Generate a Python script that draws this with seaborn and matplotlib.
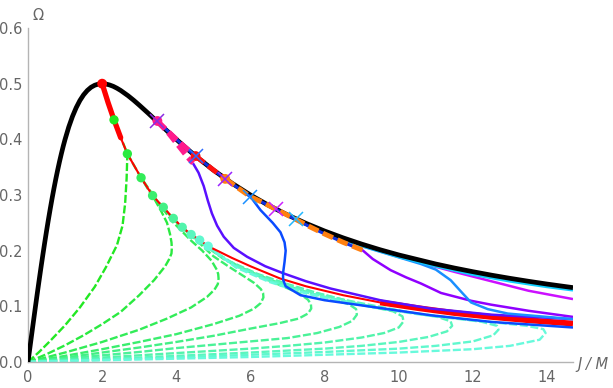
import numpy as np
import pandas as pd
import matplotlib
matplotlib.use("Agg")
import matplotlib.pyplot as plt
import seaborn as sns
from matplotlib.ticker import MultipleLocator

# ---------------- data ----------------
black_J = [0, 0.1, 0.15, 0.2, 0.25, 0.3, 0.35, 0.4, 0.45, 0.5, 0.55, 0.6, 0.65, 0.7, 0.75, 0.8,
           0.85, 0.9, 0.95, 1.0, 1.1, 1.2, 1.3, 1.4, 1.5, 1.6, 1.7, 1.8, 1.9, 2.0, 2.1, 2.2, 2.3,
           2.4, 2.5, 2.7, 2.85, 3.0, 3.25, 3.5, 3.75, 4.0, 4.25, 4.5, 5.0, 5.5, 6.0, 6.5, 7.0,
           7.5, 8.0, 8.5, 9.0, 9.5, 10.0, 11.0, 11.5, 12.0, 12.5, 13.0, 13.5, 14.0, 14.7]
black_W = [0, 0.0499, 0.0746, 0.0990, 0.1231, 0.1467, 0.1698, 0.1923, 0.2142, 0.2353, 0.2557,
           0.2752, 0.2940, 0.3118, 0.3288, 0.3448, 0.3600, 0.3742, 0.3876, 0.4, 0.4223, 0.4412,
           0.4569, 0.4698, 0.48, 0.4878, 0.4935, 0.4972, 0.4993, 0.5, 0.4994, 0.4977, 0.4952,
           0.4918, 0.4878, 0.4783, 0.4702, 0.4615, 0.4464, 0.4308, 0.4152, 0.4, 0.3853, 0.3711,
           0.3448, 0.3212, 0.3, 0.2811, 0.2642, 0.249, 0.2353, 0.223, 0.2118, 0.2016, 0.1923,
           0.176, 0.1688, 0.1622, 0.156, 0.1503, 0.145, 0.14, 0.1336]

red_J = [2.0, 2.16, 2.32, 2.5, 2.68, 3.05, 3.36, 3.65, 3.92, 4.16, 4.4, 4.63, 4.86, 5.5, 6.0, 6.8,
         7.5, 8.5, 9.5, 10.5, 11.5, 12.5, 13.5, 14.7]
red_W = [0.5, 0.466, 0.435, 0.403, 0.374, 0.331, 0.299, 0.278, 0.258, 0.242, 0.229, 0.219, 0.208,
         0.187, 0.172, 0.15, 0.136, 0.12, 0.107, 0.097, 0.088, 0.081, 0.075, 0.069]

dot_J = [2.32, 2.68, 3.05, 3.36, 3.65, 3.92, 4.16, 4.40, 4.63, 4.86]
dot_W = [0.435, 0.374, 0.331, 0.299, 0.278, 0.258, 0.242, 0.229, 0.219, 0.208]
green_colors = ["#22e822", "#2aea40", "#32ec58", "#3aee6e", "#42f084", "#4af298",
                "#52f4ac", "#5af6be", "#60f8ce", "#68fadc"]

g1_J = [0, 0.3, 0.6, 1.0, 1.4, 1.8, 2.1, 2.4, 2.55, 2.62, 2.66, 2.68, 2.5, 2.32]
g1_W = [0, 0.018, 0.038, 0.066, 0.098, 0.135, 0.17, 0.21, 0.245, 0.285, 0.33, 0.374, 0.404, 0.435]
g2_J = [0, 0.5, 1.0, 1.5, 2.0, 2.5, 3.0, 3.4, 3.7, 3.81, 3.87, 3.88, 3.87, 3.83, 3.75, 3.6, 3.45,
        3.3, 3.05, 2.68]
g2_W = [0, 0.014, 0.03, 0.048, 0.068, 0.09, 0.12, 0.147, 0.172, 0.185, 0.195, 0.205, 0.215,
        0.23, 0.25, 0.27, 0.288, 0.307, 0.331, 0.374]
g3_J = [0, 1, 2, 3, 3.75, 4.4, 4.83, 5.03, 5.12, 5.14, 5.13, 5.09, 4.95, 4.7, 4.4, 4.15, 3.9,
        3.65, 3.36, 3.05]
g3_W = [0, 0.017, 0.036, 0.058, 0.078, 0.098, 0.117, 0.13, 0.14, 0.15, 0.158, 0.166, 0.182, 0.2,
        0.218, 0.235, 0.252, 0.274, 0.297, 0.331]
g4_J = [0, 1, 2, 3, 4, 5, 5.7, 6.1, 6.28, 6.35, 6.34, 6.28, 6.1, 5.8, 5.4, 5.0, 4.65, 4.4, 4.16,
        3.92, 3.65, 3.36]
g4_W = [0, 0.011, 0.023, 0.036, 0.05, 0.068, 0.083, 0.096, 0.106, 0.116, 0.124, 0.131, 0.142,
        0.155, 0.172, 0.19, 0.212, 0.228, 0.241, 0.257, 0.277, 0.299]
g5_J = [0, 1, 2, 3, 4, 5, 6, 6.8, 7.3, 7.55, 7.64, 7.63, 7.55, 7.3, 6.8, 6.3, 5.8, 5.3, 4.86,
        4.63, 4.4, 4.16, 3.92, 3.65]
g5_W = [0, 0.008, 0.017, 0.026, 0.036, 0.047, 0.06, 0.07, 0.078, 0.087, 0.096, 0.104, 0.112,
        0.124, 0.138, 0.152, 0.167, 0.184, 0.205, 0.217, 0.228, 0.241, 0.257, 0.278]
g6_J = [0, 1, 2, 3, 4, 5, 6, 7, 7.8, 8.4, 8.75, 8.87, 8.85, 8.65, 8.1, 7.5, 6.8, 6.0, 5.3, 4.86,
        4.63, 4.4, 4.16, 3.92]
g6_W = [0, 0.006, 0.012, 0.018, 0.025, 0.031, 0.037, 0.043, 0.052, 0.063, 0.074, 0.085, 0.095,
        0.104, 0.114, 0.126, 0.141, 0.162, 0.185, 0.206, 0.218, 0.229, 0.242, 0.258]
g7_J = [0, 2, 4, 6, 7, 8, 9, 9.6, 10.0, 10.13, 10.1, 9.85, 9.2, 8.5, 7.8, 7.0, 6.2, 5.4, 4.86,
        4.63, 4.4, 4.16]
g7_W = [0, 0.008, 0.016, 0.024, 0.029, 0.035, 0.044, 0.052, 0.062, 0.073, 0.082, 0.091, 0.1,
        0.112, 0.124, 0.14, 0.158, 0.182, 0.206, 0.218, 0.229, 0.242]
g8_J = [0, 2, 4, 6, 8, 9, 10, 10.8, 11.3, 11.44, 11.4, 11.05, 10.3, 9.5, 8.5, 7.5, 6.5, 5.6, 4.86,
        4.63, 4.4]
g8_W = [0, 0.005, 0.011, 0.017, 0.024, 0.029, 0.036, 0.045, 0.055, 0.065, 0.073, 0.081, 0.089,
        0.099, 0.112, 0.128, 0.148, 0.174, 0.206, 0.218, 0.229]
g9_J = [0, 2, 4, 6, 8, 10, 11, 12, 12.55, 12.69, 12.65, 12.25, 11.5, 10.5, 9.5, 8.5, 7.5, 6.5,
        5.6, 4.86, 4.63]
g9_W = [0, 0.004, 0.008, 0.013, 0.018, 0.024, 0.029, 0.037, 0.048, 0.058, 0.065, 0.072, 0.079,
        0.087, 0.097, 0.11, 0.125, 0.146, 0.172, 0.205, 0.219]
g10_J = [0, 2, 4, 6, 8, 10, 12, 13, 13.8, 13.96, 13.9, 13.45, 12.6, 11.5, 10.5, 9.5, 8.5, 7.5,
         6.5, 5.6, 4.86]
g10_W = [0, 0.003, 0.006, 0.009, 0.013, 0.017, 0.023, 0.029, 0.04, 0.052, 0.059, 0.065, 0.071,
         0.078, 0.086, 0.096, 0.108, 0.123, 0.144, 0.17, 0.208]
green_J = [g1_J, g2_J, g3_J, g4_J, g5_J, g6_J, g7_J, g8_J, g9_J, g10_J]
green_W = [g1_W, g2_W, g3_W, g4_W, g5_W, g6_W, g7_W, g8_W, g9_W, g10_W]

# upper (overlapping) branch
up_J = [3.49, 3.8, 4.1, 4.52, 5.0, 5.32, 5.7, 6.0, 6.35, 6.7, 7.23, 7.6, 8.0, 8.5, 9.02]
up_W = [0.433, 0.413, 0.394, 0.370, 0.345, 0.329, 0.311, 0.297, 0.286, 0.274, 0.256, 0.243,
        0.230, 0.215, 0.201]
pink_J = [3.49, 3.8, 4.1, 4.3, 4.45]
pink_W = [0.433, 0.41, 0.385, 0.368, 0.357]

violet_J = [4.45, 4.6, 4.74, 4.85, 4.96, 5.1, 5.28, 5.55, 5.91, 6.4, 6.9, 7.5, 8.16, 9.5, 10.86,
            12.5, 14.7]
violet_W = [0.357, 0.34, 0.316, 0.29, 0.267, 0.245, 0.225, 0.205, 0.189, 0.172, 0.159, 0.145,
            0.132, 0.111, 0.096, 0.085, 0.077]
blue_J = [6.0, 6.27, 6.6, 6.81, 6.92, 6.95, 6.92, 6.88, 6.88, 6.95, 7.35, 8.0, 8.97, 10.86, 12.5,
          14.7]
blue_W = [0.297, 0.273, 0.25, 0.233, 0.215, 0.2, 0.18, 0.16, 0.148, 0.136, 0.12, 0.111, 0.102,
          0.084, 0.072, 0.062]
purple_J = [9.02, 9.3, 9.78, 10.2, 10.6, 11.14, 11.95, 12.49, 13.5, 14.7]
purple_W = [0.201, 0.185, 0.165, 0.152, 0.141, 0.124, 0.110, 0.103, 0.092, 0.081]
magenta_J = [6.7, 7.5, 8.5, 9.5, 10.5, 11.5, 12.5, 13.5, 14.7]
magenta_W = [0.274, 0.248, 0.222, 0.2, 0.18, 0.162, 0.145, 0.128, 0.113]
dodger_J = [7.23, 8.0, 9.0, 10.0, 10.6, 11.0, 11.4, 11.7, 11.95, 12.4, 12.94, 14.7]
dodger_W = [0.254, 0.232, 0.208, 0.188, 0.176, 0.166, 0.147, 0.125, 0.107, 0.095, 0.087, 0.077]
cyan_J = [7.23, 8.0, 9.0, 10.0, 11.0, 12.0, 13.0, 14.0, 14.7]
cyan_W = [0.255, 0.233, 0.209, 0.189, 0.172, 0.157, 0.145, 0.135, 0.129]

cross_J = [3.49, 4.52, 5.32, 6.0, 6.7, 7.23]
cross_W = [0.433, 0.370, 0.329, 0.297, 0.274, 0.256]
cross_colors = ["#8a2be2", "#2f6bff", "#9a22ff", "#1a8fff", "#cc22ff", "#22b8ff"]
circ_J = [3.49, 4.52, 5.32]
circ_W = [0.433, 0.370, 0.329]
circ_colors = ["#ff1a8c", "#ff1010", "#ff8010"]

xticks = [0, 2, 4, 6, 8, 10, 12, 14]
yticks = [0.0, 0.1, 0.2, 0.3, 0.4, 0.5, 0.6]

# ---------------- plotting ----------------
sns.set_theme(style="white")
plt.rcParams['font.family'] = ['DejaVu Sans']

fig = plt.figure(figsize=(6.13, 3.88), dpi=100)
ax = fig.add_axes([28 / 613, 26 / 388, 545 / 613, 334 / 388])


def line(J, W, color, lw, dashes=None, z=2, cap='butt'):
    df = pd.DataFrame({'J': J, 'W': W})
    sns.lineplot(data=df, x='J', y='W', sort=False, estimator=None, color=color,
                 lw=lw, ax=ax, zorder=z)
    ln = ax.lines[-1]
    if dashes is not None:
        ln.set_dashes(dashes)
    ln.set_solid_capstyle(cap)
    ln.set_dash_capstyle('butt')
    ln.set_solid_joinstyle('round')
    return ln


# green dashed family
for J, W, c in zip(green_J, green_W, green_colors):
    line(J, W, c, 1.7, dashes=(3.4, 1.1), z=2)

# red lower branch
line(red_J, red_W, "#ff0000", 1.5, z=3)
line(red_J[:4], red_W[:4], "#ff0000", 3.8, z=3, cap='round')
line(red_J[18:], red_W[18:], "#ff0000", 4.2, z=3)

# coloured solid branches
line(violet_J, violet_W, "#5a10ff", 1.8, z=3)
line(blue_J, blue_W, "#0a4bff", 1.8, z=3)
line(purple_J, purple_W, "#9000ff", 1.8, z=3)
line(magenta_J, magenta_W, "#cc10ff", 1.8, z=3)
line(dodger_J, dodger_W, "#1a8fff", 1.8, z=3)
line(cyan_J, cyan_W, "#10d0ff", 2.0, z=3)

# black curve
line(black_J, black_W, "#000000", 3.4, z=4)

# overlapping dashed upper branch
line(up_J, up_W, "#1030e0", 2.2, z=5)
line(pink_J, pink_W, "#ff1a8c", 3.6, dashes=(2.2, 1.0), z=6)
line(up_J[:4], up_W[:4], "#ff1a8c", 3.6, dashes=(2.2, 1.0), z=6)
line(up_J[3:6], up_W[3:6], "#ff1010", 3.6, dashes=(2.2, 1.0), z=6)
line(up_J[5:], up_W[5:], "#ff8010", 3.6, dashes=(2.2, 1.0), z=6)

# markers
sns.scatterplot(x=dot_J, y=dot_W, hue=list(range(len(dot_J))), palette=green_colors,
                s=45, edgecolor='none', legend=False, ax=ax, zorder=7)
sns.scatterplot(x=[2.0], y=[0.5], color="#ff0000", s=50, edgecolor='none', legend=False,
                ax=ax, zorder=7)
sns.scatterplot(x=circ_J, y=circ_W, hue=list(range(3)), palette=circ_colors, s=50,
                edgecolor='none', legend=False, ax=ax, zorder=7)
for j, w, c in zip(cross_J, cross_W, cross_colors):
    ax.plot([j], [w], marker='x', ms=10, mew=1.1, color=c, zorder=8, ls='none')

# axes styling
ax.set_xlim(0, 14.7)
ax.set_ylim(0, 0.6)
ax.set_xticks(xticks)
ax.set_yticks(yticks)
ax.set_xticklabels([str(t) for t in xticks])
ax.set_yticklabels([f"{t:.1f}" for t in yticks])
ax.xaxis.set_minor_locator(MultipleLocator(0.5))
ax.yaxis.set_minor_locator(MultipleLocator(0.02))
for s in ['top', 'right']:
    ax.spines[s].set_visible(False)
for s in ['left', 'bottom']:
    ax.spines[s].set_color('#b4b4b4')
    ax.spines[s].set_linewidth(1.0)
ax.tick_params(which='both', direction='in', color='#b4b4b4', labelcolor='#666666',
               labelsize=10.5)
ax.tick_params(which='major', length=4.5, width=0.8, pad=4)
ax.tick_params(which='minor', length=2.5, width=0.6)
ax.tick_params(axis='x', which='major', pad=6)
ax.set_xlabel('')
ax.set_ylabel('')
ax.grid(False)

fig.text(38 / 613, 1 - 15 / 388, "Ω", color='#666666', fontsize=10.5, ha='center', va='center')
fig.text(577 / 613, 1 - 365 / 388, "J / M", color='#666666', fontsize=10.5, ha='left',
         va='center', style='italic')

fig.savefig("out.png", dpi=100)
